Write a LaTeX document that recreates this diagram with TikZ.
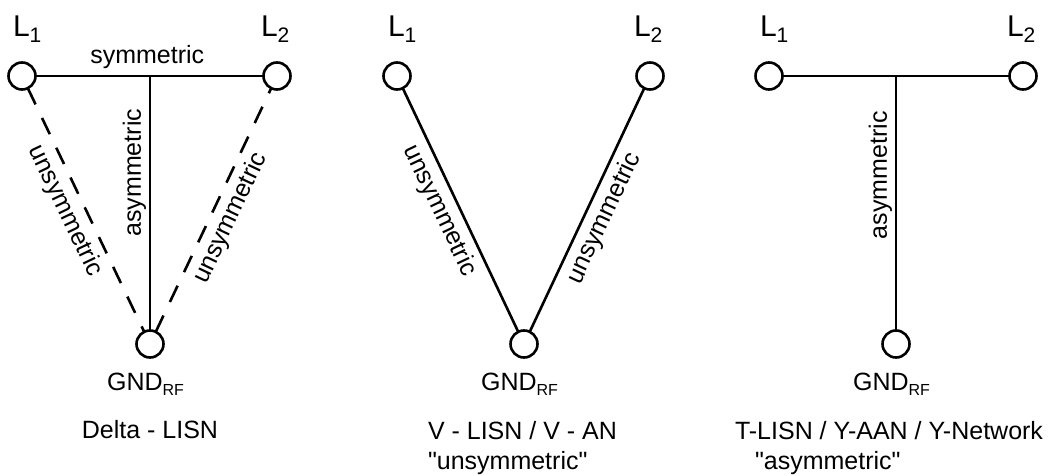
\documentclass[tikz,border=0pt]{standalone}
\usepackage{fontspec}
\setmainfont{Liberation Sans}
% same face without TeX ligature mapping, for straight quotes
\newfontfamily\plainquote{Liberation Sans}[Ligatures=ResetAll]
\usetikzlibrary{calc}
% line terminal label with a lowered index, e.g. L_1
\newcommand\lineterm[1]{{\fontsize{30}{32}\selectfont L}\raisebox{-6pt}{\fontsize{21}{21}\selectfont #1}}
% RF ground label
\newcommand\gndrf{GND\raisebox{-5pt}{\fontsize{16}{16}\selectfont RF}}
% straight double quote
\newcommand\sq{{\plainquote\char"22}}
\begin{document}
\begin{tikzpicture}[x=1pt,y=-1pt,
  every node/.style={font=\fontsize{25}{30}\selectfont, outer sep=0pt},
  terminal/.style={circle, draw, line width=2.6pt, minimum size=27pt, inner sep=0pt, outer sep=0pt},
  wire/.style={line width=2.6pt},
  dashwire/.style={wire, dash pattern=on 18pt off 15pt},
  lbl/.style={sloped, inner sep=7.5pt},
  vlbl/.style={sloped, inner sep=4pt},
  tlbl/.style={anchor=base west, inner sep=0pt},
  txt/.style={inner sep=0pt},
]
\useasboundingbox (0,0) rectangle (1060,476);

% ---------------- Delta - LISN ----------------
\node[terminal] (aL1) at (22,76) {};
\node[terminal] (aL2) at (277,76) {};
\node[terminal] (aG)  at (150,344) {};
\coordinate (aJ) at (aG |- aL1);
\node[tlbl] (aT1) at (13,37) {\lineterm{1}};
\node[tlbl] (aT2) at (261,37) {\lineterm{2}};
\draw[wire] (aL1) -- node[lbl, above, pos=0.49] (aS) {symmetric} (aL2);
\draw[wire] (aG) -- node[vlbl, above, pos=0.62] (aA) {asymmetric} (aJ);
\draw[dashwire] (aL1) -- node[lbl, below, pos=0.47] (aU1) {unsymmetric} (aG);
\draw[dashwire] (aG) -- node[lbl, below, pos=0.5] (aU2) {unsymmetric} (aL2);
\node[txt, anchor=base] (aGN) at ($(aG)+(-4.5,46)$) {\gndrf};
\node[txt, anchor=base] (aName) at (150,438) {Delta - LISN};

% ---------------- V - LISN ----------------
\node[terminal] (bL1) at (397,76) {};
\node[terminal] (bL2) at (650,76) {};
\node[terminal] (bG)  at (524,344) {};
\node[tlbl] (bT1) at (388,37) {\lineterm{1}};
\node[tlbl] (bT2) at (634,37) {\lineterm{2}};
\draw[wire] (bL1) -- node[lbl, below, pos=0.47] (bU1) {unsymmetric} (bG);
\draw[wire] (bG) -- node[lbl, below, pos=0.5] (bU2) {unsymmetric} (bL2);
\node[txt, anchor=base] (bGN) at ($(bG)+(-4.5,46)$) {\gndrf};
\node[tlbl] (bName) at (428,439) {V - LISN / V - AN};
\node[tlbl] (bKind) at (428,469) {\sq unsymmetric\sq};

% ---------------- T-LISN ----------------
\node[terminal] (cL1) at (769,76) {};
\node[terminal] (cL2) at (1023,76) {};
\node[terminal] (cG)  at (896,344) {};
\coordinate (cJ) at (cG |- cL1);
\node[tlbl] (cT1) at (760,37) {\lineterm{1}};
\node[tlbl] (cT2) at (1007,37) {\lineterm{2}};
\draw[wire] (cL1) -- (cL2);
\draw[wire] (cG) -- node[vlbl, above, pos=0.61] (cA) {asymmetric} (cJ);
\node[txt, anchor=base] (cGN) at ($(cG)+(-4.5,46)$) {\gndrf};
\node[tlbl] (cName) at (735,439) {T-LISN / Y-AAN / Y-Network};
\node[tlbl] (cKind) at (755,469) {\sq asymmetric\sq};
\end{tikzpicture}
\end{document}
